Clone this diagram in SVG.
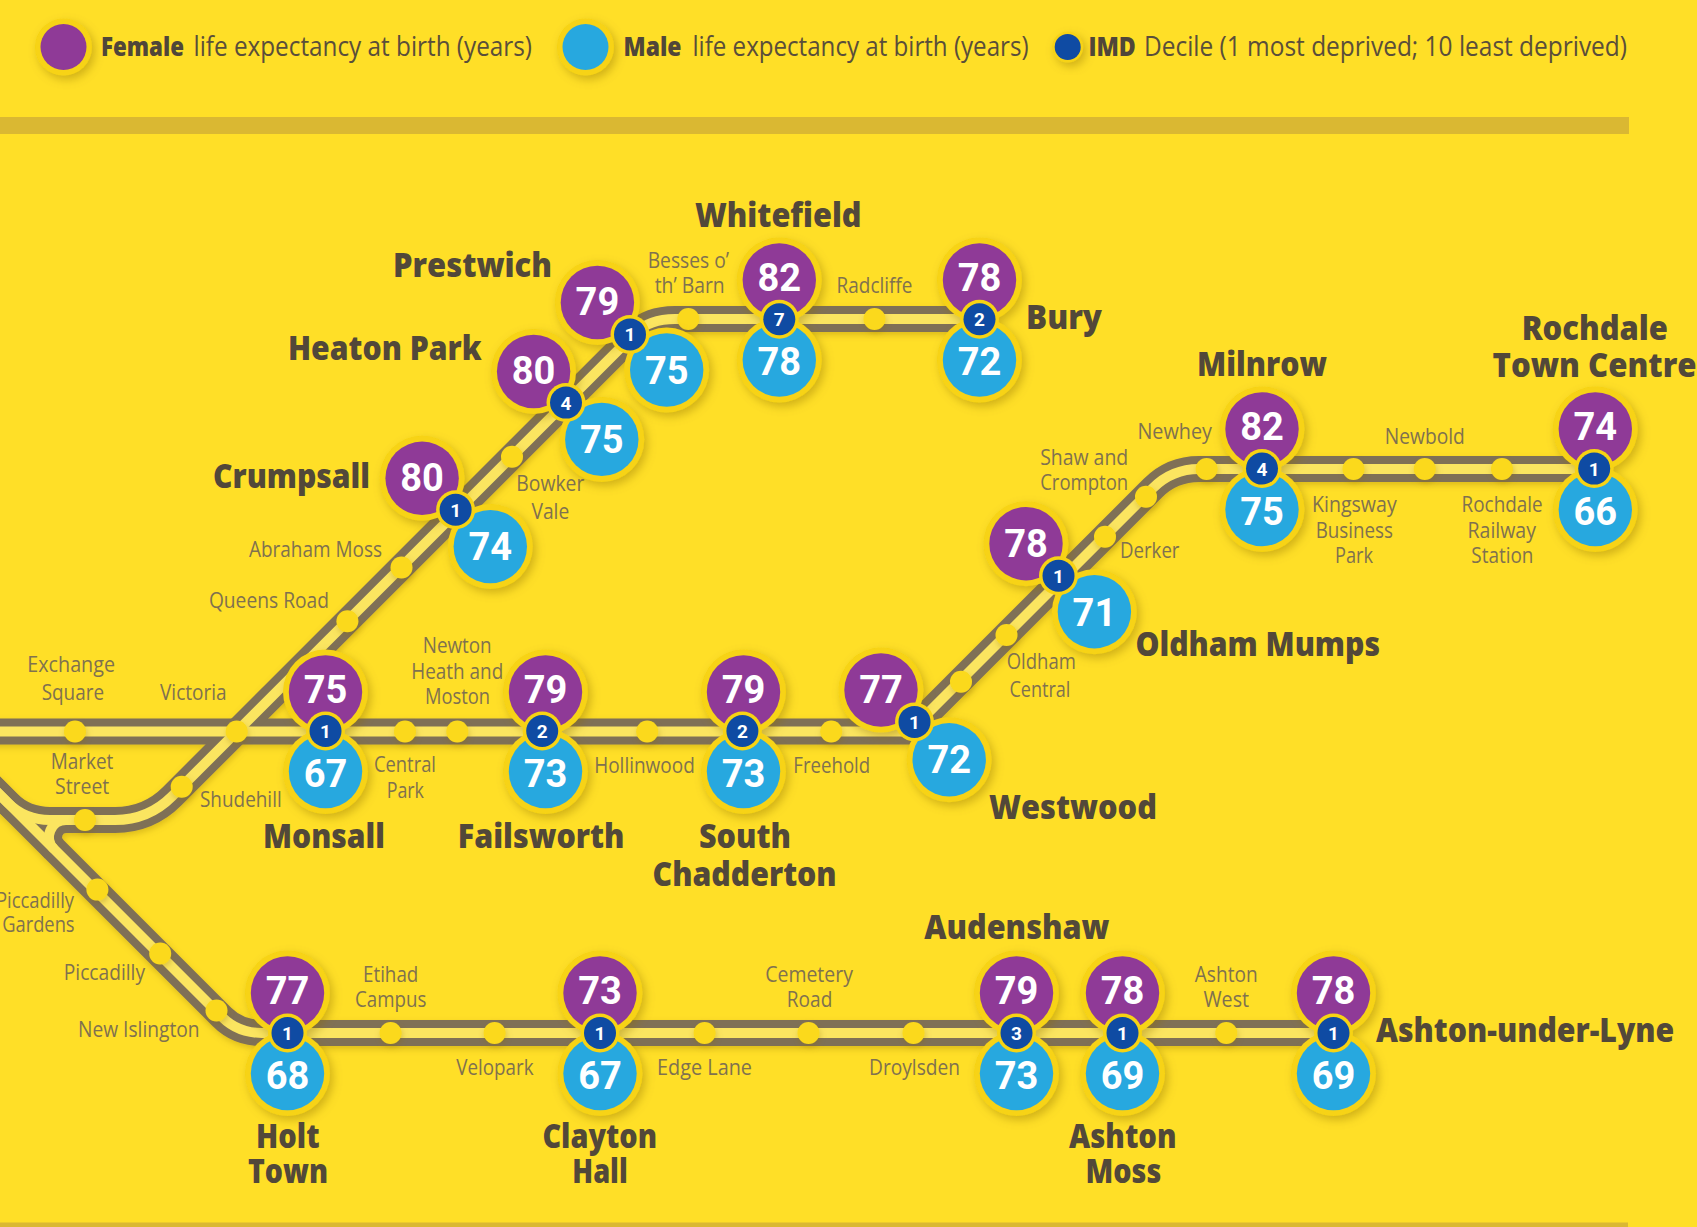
<svg xmlns="http://www.w3.org/2000/svg" width="1697" height="1227" viewBox="0 0 1697 1227">
<style>
text{font-family:"Open Sans","Noto Sans","Liberation Sans",sans-serif}
.s{font-size:22px;fill:#80714f;letter-spacing:0}
.b{font-size:33px;font-weight:800;fill:#524839}
.l{font-size:27px;fill:#5a4e3a}
.lb{font-weight:800;fill:#504639}
.n{font-family:Roboto,"Liberation Sans",sans-serif;font-size:38px;font-weight:700;fill:#fff;text-anchor:middle}
.i{font-family:Roboto,"Liberation Sans",sans-serif;font-size:19px;font-weight:700;fill:#fff;text-anchor:middle}
.ring{fill:#f7d313}
.f{fill:#8f3a97}
.m{fill:#27a8df}
.d{fill:#0f4ba3}
.st{fill:#fbd91a;filter:url(#ss)}
.rail{fill:none;stroke:#7f7056;stroke-width:26}
.core{fill:none;stroke:#fbe560;stroke-width:10}
.band{fill:#dab832}
</style>
<defs>
<filter id="sh" x="-30%" y="-30%" width="170%" height="170%"><feDropShadow dx="3" dy="4" stdDeviation="5" flood-color="#8a6a00" flood-opacity=".4"/></filter>
<filter id="ss" x="-60%" y="-60%" width="220%" height="220%"><feDropShadow dx="1" dy="3" stdDeviation="3" flood-color="#8a6a00" flood-opacity=".3"/></filter>
<path id="t1" d="M-10 731.5H909.5L1153 488Q1172 469 1199 469H1594"/>
<path id="t2" d="M-12 783L8 803Q25 820 50 820H115Q148.4 820 172 796.4L635 333.4Q649.4 319 675 319H979.5"/>
<path id="t3" d="M-12 783L222 1017Q238 1033 262 1033H1333"/>
<path id="t4" d="M90 820H66A17 17 0 0 0 54 849"/>
</defs>
<rect width="1697" height="1227" fill="#ffdf27"/>
<rect class="band" x="0" y="117" width="1629" height="17"/>
<rect class="band" x="0" y="1222.5" width="1628" height="5"/>

<g id="legend">
<g id="legend-female"><circle class="ring" cx="63.5" cy="47" r="28.5" filter="url(#sh)"/><circle class="f" cx="63.5" cy="47" r="23"/>
<text class="l" y="56"><tspan class="lb" x="101" textLength="83" lengthAdjust="spacingAndGlyphs">Female</tspan><tspan x="193.5" textLength="338.5" lengthAdjust="spacingAndGlyphs">life expectancy at birth (years)</tspan></text></g>
<g id="legend-male"><circle class="ring" cx="585.5" cy="47" r="28.5" filter="url(#sh)"/><circle class="m" cx="585.5" cy="47" r="23"/>
<text class="l" y="56"><tspan class="lb" x="623.5" textLength="58" lengthAdjust="spacingAndGlyphs">Male</tspan><tspan x="692.5" textLength="336" lengthAdjust="spacingAndGlyphs">life expectancy at birth (years)</tspan></text></g>
<g id="legend-imd"><circle class="ring" cx="1067.7" cy="47" r="15.5" filter="url(#sh)"/><circle class="d" cx="1067.7" cy="47" r="13"/>
<text class="l" y="56"><tspan class="lb" x="1088.4" textLength="47.5" lengthAdjust="spacingAndGlyphs">IMD</tspan><tspan x="1144" textLength="483" lengthAdjust="spacingAndGlyphs">Decile (1 most deprived; 10 least deprived)</tspan></text></g>
</g>

<g id="connectors" filter="url(#ss)">
<use href="#t1" class="rail"/><use href="#t2" class="rail"/><use href="#t3" class="rail"/><use href="#t4" class="rail"/>
<use href="#t1" class="core"/><use href="#t2" class="core"/><use href="#t3" class="core"/><use href="#t4" class="core"/>
</g>

<g id="stops">
<g id="exchange-square"><circle class="st" cx="75" cy="731.5" r="11"/><text class="s" x="27.3" y="671.5" textLength="87.7" lengthAdjust="spacingAndGlyphs">Exchange</text><text class="s" x="41.7" y="700" textLength="62.3" lengthAdjust="spacingAndGlyphs">Square</text></g>
<g id="victoria"><circle class="st" cx="236.7" cy="731.5" r="11"/><text class="s" x="160" y="700" textLength="66.7" lengthAdjust="spacingAndGlyphs">Victoria</text></g>
<g id="central-park"><circle class="st" cx="405" cy="731.5" r="11"/><text class="s" x="374" y="772.3" textLength="62" lengthAdjust="spacingAndGlyphs">Central</text><text class="s" x="386.7" y="798.3" textLength="37.3" lengthAdjust="spacingAndGlyphs">Park</text></g>
<g id="newton-heath"><circle class="st" cx="457.3" cy="731.5" r="11"/><text class="s" x="422.7" y="652.7" textLength="69" lengthAdjust="spacingAndGlyphs">Newton</text><text class="s" x="411.3" y="679" textLength="92" lengthAdjust="spacingAndGlyphs">Heath and</text><text class="s" x="425" y="704" textLength="65" lengthAdjust="spacingAndGlyphs">Moston</text></g>
<g id="hollinwood"><circle class="st" cx="647.2" cy="731.5" r="11"/><text class="s" x="594.2" y="772.5" textLength="100.6" lengthAdjust="spacingAndGlyphs">Hollinwood</text></g>
<g id="freehold"><circle class="st" cx="831.2" cy="731.5" r="11"/><text class="s" x="793.3" y="772.5" textLength="76.9" lengthAdjust="spacingAndGlyphs">Freehold</text></g>
<g id="market-street"><circle class="st" cx="85" cy="820" r="11"/><text class="s" x="50.7" y="769.3" textLength="62.6" lengthAdjust="spacingAndGlyphs">Market</text><text class="s" x="55" y="794" textLength="54.3" lengthAdjust="spacingAndGlyphs">Street</text></g>
<g id="shudehill"><circle class="st" cx="181.7" cy="786.7" r="11"/><text class="s" x="200" y="807.3" textLength="81.7" lengthAdjust="spacingAndGlyphs">Shudehill</text></g>
<g id="queens-road"><circle class="st" cx="347.4" cy="621.2" r="11"/><text class="s" x="208.9" y="608" textLength="120.1" lengthAdjust="spacingAndGlyphs">Queens Road</text></g>
<g id="abraham-moss"><circle class="st" cx="401.5" cy="567.5" r="11"/><text class="s" x="249" y="556.5" textLength="133" lengthAdjust="spacingAndGlyphs">Abraham Moss</text></g>
<g id="bowker-vale"><circle class="st" cx="512" cy="456.7" r="11"/><text class="s" x="516.3" y="490.5" textLength="68.1" lengthAdjust="spacingAndGlyphs">Bowker</text><text class="s" x="531.4" y="518.6" textLength="37.9" lengthAdjust="spacingAndGlyphs">Vale</text></g>
<g id="besses"><circle class="st" cx="688.3" cy="319" r="11"/><text class="s" x="647.7" y="267.7" textLength="81.3" lengthAdjust="spacingAndGlyphs">Besses o’</text><text class="s" x="654.7" y="292.7" textLength="70" lengthAdjust="spacingAndGlyphs">th’ Barn</text></g>
<g id="radcliffe"><circle class="st" cx="874.5" cy="319" r="11"/><text class="s" x="836.6" y="293" textLength="75.8" lengthAdjust="spacingAndGlyphs">Radcliffe</text></g>
<g id="oldham-central"><circle class="st" cx="961" cy="681.7" r="11"/><text class="s" x="1006.7" y="669" textLength="69.1" lengthAdjust="spacingAndGlyphs">Oldham</text><text class="s" x="1009.4" y="696.7" textLength="61" lengthAdjust="spacingAndGlyphs">Central</text></g>
<g id="oldham-stop"><circle class="st" cx="1006.5" cy="635" r="11"/></g>
<g id="derker"><circle class="st" cx="1105" cy="536.7" r="11"/><text class="s" x="1120" y="558.3" textLength="59.5" lengthAdjust="spacingAndGlyphs">Derker</text></g>
<g id="shaw-crompton"><circle class="st" cx="1146" cy="496.7" r="11"/><text class="s" x="1040.2" y="465" textLength="88" lengthAdjust="spacingAndGlyphs">Shaw and</text><text class="s" x="1040.2" y="490" textLength="88" lengthAdjust="spacingAndGlyphs">Crompton</text></g>
<g id="newhey"><circle class="st" cx="1206.6" cy="469" r="11"/><text class="s" x="1137.4" y="439.3" textLength="74.6" lengthAdjust="spacingAndGlyphs">Newhey</text></g>
<g id="kingsway"><circle class="st" cx="1353.5" cy="469" r="11"/><text class="s" x="1312" y="511.7" textLength="84.7" lengthAdjust="spacingAndGlyphs">Kingsway</text><text class="s" x="1315.7" y="537.7" textLength="77.3" lengthAdjust="spacingAndGlyphs">Business</text><text class="s" x="1335" y="563" textLength="38" lengthAdjust="spacingAndGlyphs">Park</text></g>
<g id="newbold"><circle class="st" cx="1424.8" cy="469" r="11"/><text class="s" x="1384.8" y="444" textLength="80" lengthAdjust="spacingAndGlyphs">Newbold</text></g>
<g id="rochdale-railway"><circle class="st" cx="1502" cy="469" r="11"/><text class="s" x="1461.6" y="511.7" textLength="81" lengthAdjust="spacingAndGlyphs">Rochdale</text><text class="s" x="1467.5" y="537.7" textLength="68.5" lengthAdjust="spacingAndGlyphs">Railway</text><text class="s" x="1471.3" y="563" textLength="62.1" lengthAdjust="spacingAndGlyphs">Station</text></g>
<g id="piccadilly-gardens"><circle class="st" cx="97.4" cy="889.6" r="11"/><text class="s" x="-4" y="908" textLength="78" lengthAdjust="spacingAndGlyphs">Piccadilly</text><text class="s" x="2.2" y="932.3" textLength="72.4" lengthAdjust="spacingAndGlyphs">Gardens</text></g>
<g id="piccadilly"><circle class="st" cx="160.2" cy="953.5" r="11"/><text class="s" x="63.8" y="980" textLength="81.2" lengthAdjust="spacingAndGlyphs">Piccadilly</text></g>
<g id="new-islington"><circle class="st" cx="216.5" cy="1010.5" r="11"/><text class="s" x="78" y="1036.7" textLength="121.6" lengthAdjust="spacingAndGlyphs">New Islington</text></g>
<g id="etihad"><circle class="st" cx="390.6" cy="1033" r="11"/><text class="s" x="363" y="982.3" textLength="55.3" lengthAdjust="spacingAndGlyphs">Etihad</text><text class="s" x="355" y="1007" textLength="71.3" lengthAdjust="spacingAndGlyphs">Campus</text></g>
<g id="velopark"><circle class="st" cx="494.6" cy="1033" r="11"/><text class="s" x="456.3" y="1075" textLength="77.2" lengthAdjust="spacingAndGlyphs">Velopark</text></g>
<g id="edge-lane"><circle class="st" cx="704.6" cy="1033" r="11"/><text class="s" x="657" y="1075" textLength="95" lengthAdjust="spacingAndGlyphs">Edge Lane</text></g>
<g id="cemetery-road"><circle class="st" cx="808.5" cy="1033" r="11"/><text class="s" x="765.2" y="981.6" textLength="87.7" lengthAdjust="spacingAndGlyphs">Cemetery</text><text class="s" x="786.8" y="1007" textLength="45.5" lengthAdjust="spacingAndGlyphs">Road</text></g>
<g id="droylsden"><circle class="st" cx="913.5" cy="1033" r="11"/><text class="s" x="869" y="1075" textLength="91" lengthAdjust="spacingAndGlyphs">Droylsden</text></g>
<g id="ashton-west"><circle class="st" cx="1226.3" cy="1033" r="11"/><text class="s" x="1194.8" y="982" textLength="62.8" lengthAdjust="spacingAndGlyphs">Ashton</text><text class="s" x="1203.5" y="1007" textLength="45.5" lengthAdjust="spacingAndGlyphs">West</text></g>
</g>

<g id="prestwich"><g filter="url(#sh)"><circle class="ring" cx="597.4" cy="302.5" r="42.5"/><circle class="ring" cx="666.7" cy="370" r="42.5"/></g><circle class="f" cx="597.4" cy="302.5" r="36.7"/><circle class="m" cx="666.7" cy="370" r="36.7"/><circle class="ring" cx="630" cy="334.4" r="19.5"/><circle class="d" cx="630" cy="334.4" r="16"/><text class="n" x="597.4" y="314.5">79</text><text class="n" x="666.7" y="384">75</text><text class="i" x="630" y="341.4">1</text><text class="b" x="393" y="277" textLength="159" lengthAdjust="spacingAndGlyphs">Prestwich</text></g>

<g id="whitefield"><g filter="url(#sh)"><circle class="ring" cx="779.3" cy="280" r="42.5"/><circle class="ring" cx="779.3" cy="360" r="42.5"/></g><circle class="f" cx="779.3" cy="280" r="36.7"/><circle class="m" cx="779.3" cy="360" r="36.7"/><circle class="ring" cx="779.3" cy="319.3" r="19.5"/><circle class="d" cx="779.3" cy="319.3" r="16"/><text class="n" x="779.3" y="290.5">82</text><text class="n" x="779.3" y="375">78</text><text class="i" x="779.3" y="326.3">7</text><text class="b" x="695" y="227" textLength="166.5" lengthAdjust="spacingAndGlyphs">Whitefield</text></g>

<g id="bury"><g filter="url(#sh)"><circle class="ring" cx="979.5" cy="280" r="42.5"/><circle class="ring" cx="979.5" cy="360" r="42.5"/></g><circle class="f" cx="979.5" cy="280" r="36.7"/><circle class="m" cx="979.5" cy="360" r="36.7"/><circle class="ring" cx="979.5" cy="319.3" r="19.5"/><circle class="d" cx="979.5" cy="319.3" r="16"/><text class="n" x="979.5" y="290.5">78</text><text class="n" x="979.5" y="375">72</text><text class="i" x="979.5" y="326.3">2</text><text class="b" x="1026" y="329" textLength="76" lengthAdjust="spacingAndGlyphs">Bury</text></g>

<g id="heaton-park"><g filter="url(#sh)"><circle class="ring" cx="533.6" cy="371.5" r="42.5"/><circle class="ring" cx="601.8" cy="439.4" r="42.5"/></g><circle class="f" cx="533.6" cy="371.5" r="36.7"/><circle class="m" cx="601.8" cy="439.4" r="36.7"/><circle class="ring" cx="566" cy="402.6" r="19.5"/><circle class="d" cx="566" cy="402.6" r="16"/><text class="n" x="533.6" y="383.5">80</text><text class="n" x="601.8" y="453">75</text><text class="i" x="566" y="409.6">4</text><text class="b" x="288" y="359.5" textLength="193.6" lengthAdjust="spacingAndGlyphs">Heaton Park</text></g>

<g id="crumpsall"><g filter="url(#sh)"><circle class="ring" cx="422.1" cy="478.3" r="42.5"/><circle class="ring" cx="490.3" cy="546.6" r="42.5"/></g><circle class="f" cx="422.1" cy="478.3" r="36.7"/><circle class="m" cx="490.3" cy="546.6" r="36.7"/><circle class="ring" cx="455.6" cy="509.8" r="19.5"/><circle class="d" cx="455.6" cy="509.8" r="16"/><text class="n" x="422.1" y="490.8">80</text><text class="n" x="490.3" y="560">74</text><text class="i" x="455.6" y="516.8">1</text><text class="b" x="213" y="488" textLength="157" lengthAdjust="spacingAndGlyphs">Crumpsall</text></g>

<g id="monsall"><g filter="url(#sh)"><circle class="ring" cx="325.5" cy="692" r="42.5"/><circle class="ring" cx="325.5" cy="771.5" r="42.5"/></g><circle class="f" cx="325.5" cy="692" r="36.7"/><circle class="m" cx="325.5" cy="771.5" r="36.7"/><circle class="ring" cx="325.5" cy="731" r="19.5"/><circle class="d" cx="325.5" cy="731" r="16"/><text class="n" x="325.5" y="702.5">75</text><text class="n" x="325.5" y="786.5">67</text><text class="i" x="325.5" y="738">1</text><text class="b" x="263" y="848" textLength="122" lengthAdjust="spacingAndGlyphs">Monsall</text></g>

<g id="failsworth"><g filter="url(#sh)"><circle class="ring" cx="545.5" cy="692" r="42.5"/><circle class="ring" cx="545.5" cy="771.5" r="42.5"/></g><circle class="f" cx="545.5" cy="692" r="36.7"/><circle class="m" cx="545.5" cy="771.5" r="36.7"/><circle class="ring" cx="542.2" cy="731" r="19.5"/><circle class="d" cx="542.2" cy="731" r="16"/><text class="n" x="545.5" y="702.5">79</text><text class="n" x="545.5" y="786.5">73</text><text class="i" x="542.2" y="738">2</text><text class="b" x="457.8" y="848" textLength="166.7" lengthAdjust="spacingAndGlyphs">Failsworth</text></g>

<g id="south-chadderton"><g filter="url(#sh)"><circle class="ring" cx="743.5" cy="692" r="42.5"/><circle class="ring" cx="743.5" cy="771.5" r="42.5"/></g><circle class="f" cx="743.5" cy="692" r="36.7"/><circle class="m" cx="743.5" cy="771.5" r="36.7"/><circle class="ring" cx="742.4" cy="731" r="19.5"/><circle class="d" cx="742.4" cy="731" r="16"/><text class="n" x="743.5" y="702.5">79</text><text class="n" x="743.5" y="786.5">73</text><text class="i" x="742.4" y="738">2</text><text class="b" x="699" y="848" textLength="92" lengthAdjust="spacingAndGlyphs">South</text><text class="b" x="652.6" y="886.4" textLength="184" lengthAdjust="spacingAndGlyphs">Chadderton</text></g>

<g id="westwood"><g filter="url(#sh)"><circle class="ring" cx="881" cy="690" r="42.5"/><circle class="ring" cx="949.2" cy="759.8" r="42.5"/></g><circle class="f" cx="881" cy="690" r="36.7"/><circle class="m" cx="949.2" cy="759.8" r="36.7"/><circle class="ring" cx="914.5" cy="721.9" r="19.5"/><circle class="d" cx="914.5" cy="721.9" r="16"/><text class="n" x="881" y="703">77</text><text class="n" x="949.2" y="773.3">72</text><text class="i" x="914.5" y="728.9">1</text><text class="b" x="989" y="819.3" textLength="168" lengthAdjust="spacingAndGlyphs">Westwood</text></g>

<g id="oldham-mumps"><g filter="url(#sh)"><circle class="ring" cx="1026" cy="543.7" r="42.5"/><circle class="ring" cx="1094.4" cy="611.7" r="42.5"/></g><circle class="f" cx="1026" cy="543.7" r="36.7"/><circle class="m" cx="1094.4" cy="611.7" r="36.7"/><circle class="ring" cx="1058.5" cy="575.8" r="19.5"/><circle class="d" cx="1058.5" cy="575.8" r="16"/><text class="n" x="1026" y="557">78</text><text class="n" x="1094.4" y="626">71</text><text class="i" x="1058.5" y="582.8">1</text><text class="b" x="1135.4" y="656" textLength="244.6" lengthAdjust="spacingAndGlyphs">Oldham Mumps</text></g>

<g id="milnrow"><g filter="url(#sh)"><circle class="ring" cx="1262" cy="429" r="42.5"/><circle class="ring" cx="1262" cy="509.5" r="42.5"/></g><circle class="f" cx="1262" cy="429" r="36.7"/><circle class="m" cx="1262" cy="509.5" r="36.7"/><circle class="ring" cx="1262" cy="468.6" r="19.5"/><circle class="d" cx="1262" cy="468.6" r="16"/><text class="n" x="1262" y="440">82</text><text class="n" x="1262" y="525">75</text><text class="i" x="1262" y="475.6">4</text><text class="b" x="1197" y="375.6" textLength="130" lengthAdjust="spacingAndGlyphs">Milnrow</text></g>

<g id="rochdale-town-centre"><g filter="url(#sh)"><circle class="ring" cx="1595.3" cy="429" r="42.5"/><circle class="ring" cx="1595.3" cy="509.5" r="42.5"/></g><circle class="f" cx="1595.3" cy="429" r="36.7"/><circle class="m" cx="1595.3" cy="509.5" r="36.7"/><circle class="ring" cx="1594.2" cy="468.6" r="19.5"/><circle class="d" cx="1594.2" cy="468.6" r="16"/><text class="n" x="1595.3" y="440">74</text><text class="n" x="1595.3" y="525">66</text><text class="i" x="1594.2" y="475.6">1</text><text class="b" x="1521.7" y="340" textLength="146.3" lengthAdjust="spacingAndGlyphs">Rochdale</text><text class="b" x="1492.5" y="376.6" textLength="204" lengthAdjust="spacingAndGlyphs">Town Centre</text></g>

<g id="holt-town"><g filter="url(#sh)"><circle class="ring" cx="287.5" cy="993" r="42.5"/><circle class="ring" cx="287.5" cy="1073.5" r="42.5"/></g><circle class="f" cx="287.5" cy="993" r="36.7"/><circle class="m" cx="287.5" cy="1073.5" r="36.7"/><circle class="ring" cx="287.5" cy="1033" r="19.5"/><circle class="d" cx="287.5" cy="1033" r="16"/><text class="n" x="287.5" y="1004">77</text><text class="n" x="287.5" y="1088.5">68</text><text class="i" x="287.5" y="1040">1</text><text class="b" x="256" y="1148" textLength="63.5" lengthAdjust="spacingAndGlyphs">Holt</text><text class="b" x="248" y="1182.7" textLength="80" lengthAdjust="spacingAndGlyphs">Town</text></g>

<g id="clayton-hall"><g filter="url(#sh)"><circle class="ring" cx="600" cy="993" r="42.5"/><circle class="ring" cx="600" cy="1073.5" r="42.5"/></g><circle class="f" cx="600" cy="993" r="36.7"/><circle class="m" cx="600" cy="1073.5" r="36.7"/><circle class="ring" cx="600" cy="1033" r="19.5"/><circle class="d" cx="600" cy="1033" r="16"/><text class="n" x="600" y="1004">73</text><text class="n" x="600" y="1088.5">67</text><text class="i" x="600" y="1040">1</text><text class="b" x="542.4" y="1148" textLength="114.6" lengthAdjust="spacingAndGlyphs">Clayton</text><text class="b" x="572.3" y="1182.7" textLength="55.4" lengthAdjust="spacingAndGlyphs">Hall</text></g>

<g id="audenshaw"><g filter="url(#sh)"><circle class="ring" cx="1016.5" cy="993" r="42.5"/><circle class="ring" cx="1016.5" cy="1073.5" r="42.5"/></g><circle class="f" cx="1016.5" cy="993" r="36.7"/><circle class="m" cx="1016.5" cy="1073.5" r="36.7"/><circle class="ring" cx="1016.5" cy="1033" r="19.5"/><circle class="d" cx="1016.5" cy="1033" r="16"/><text class="n" x="1016.5" y="1004">79</text><text class="n" x="1016.5" y="1088.5">73</text><text class="i" x="1016.5" y="1040">3</text><text class="b" x="924.3" y="939.4" textLength="185.1" lengthAdjust="spacingAndGlyphs">Audenshaw</text></g>

<g id="ashton-moss"><g filter="url(#sh)"><circle class="ring" cx="1122.5" cy="993" r="42.5"/><circle class="ring" cx="1122.5" cy="1073.5" r="42.5"/></g><circle class="f" cx="1122.5" cy="993" r="36.7"/><circle class="m" cx="1122.5" cy="1073.5" r="36.7"/><circle class="ring" cx="1122.5" cy="1033" r="19.5"/><circle class="d" cx="1122.5" cy="1033" r="16"/><text class="n" x="1122.5" y="1004">78</text><text class="n" x="1122.5" y="1088.5">69</text><text class="i" x="1122.5" y="1040">1</text><text class="b" x="1069" y="1148" textLength="107.5" lengthAdjust="spacingAndGlyphs">Ashton</text><text class="b" x="1085.5" y="1182.7" textLength="75.8" lengthAdjust="spacingAndGlyphs">Moss</text></g>

<g id="ashton-under-lyne"><g filter="url(#sh)"><circle class="ring" cx="1333.5" cy="993" r="42.5"/><circle class="ring" cx="1333.5" cy="1073.5" r="42.5"/></g><circle class="f" cx="1333.5" cy="993" r="36.7"/><circle class="m" cx="1333.5" cy="1073.5" r="36.7"/><circle class="ring" cx="1333.5" cy="1033" r="19.5"/><circle class="d" cx="1333.5" cy="1033" r="16"/><text class="n" x="1333.5" y="1004">78</text><text class="n" x="1333.5" y="1088.5">69</text><text class="i" x="1333.5" y="1040">1</text><text class="b" x="1376" y="1042" textLength="298.3" lengthAdjust="spacingAndGlyphs">Ashton-under-Lyne</text></g>
</svg>
